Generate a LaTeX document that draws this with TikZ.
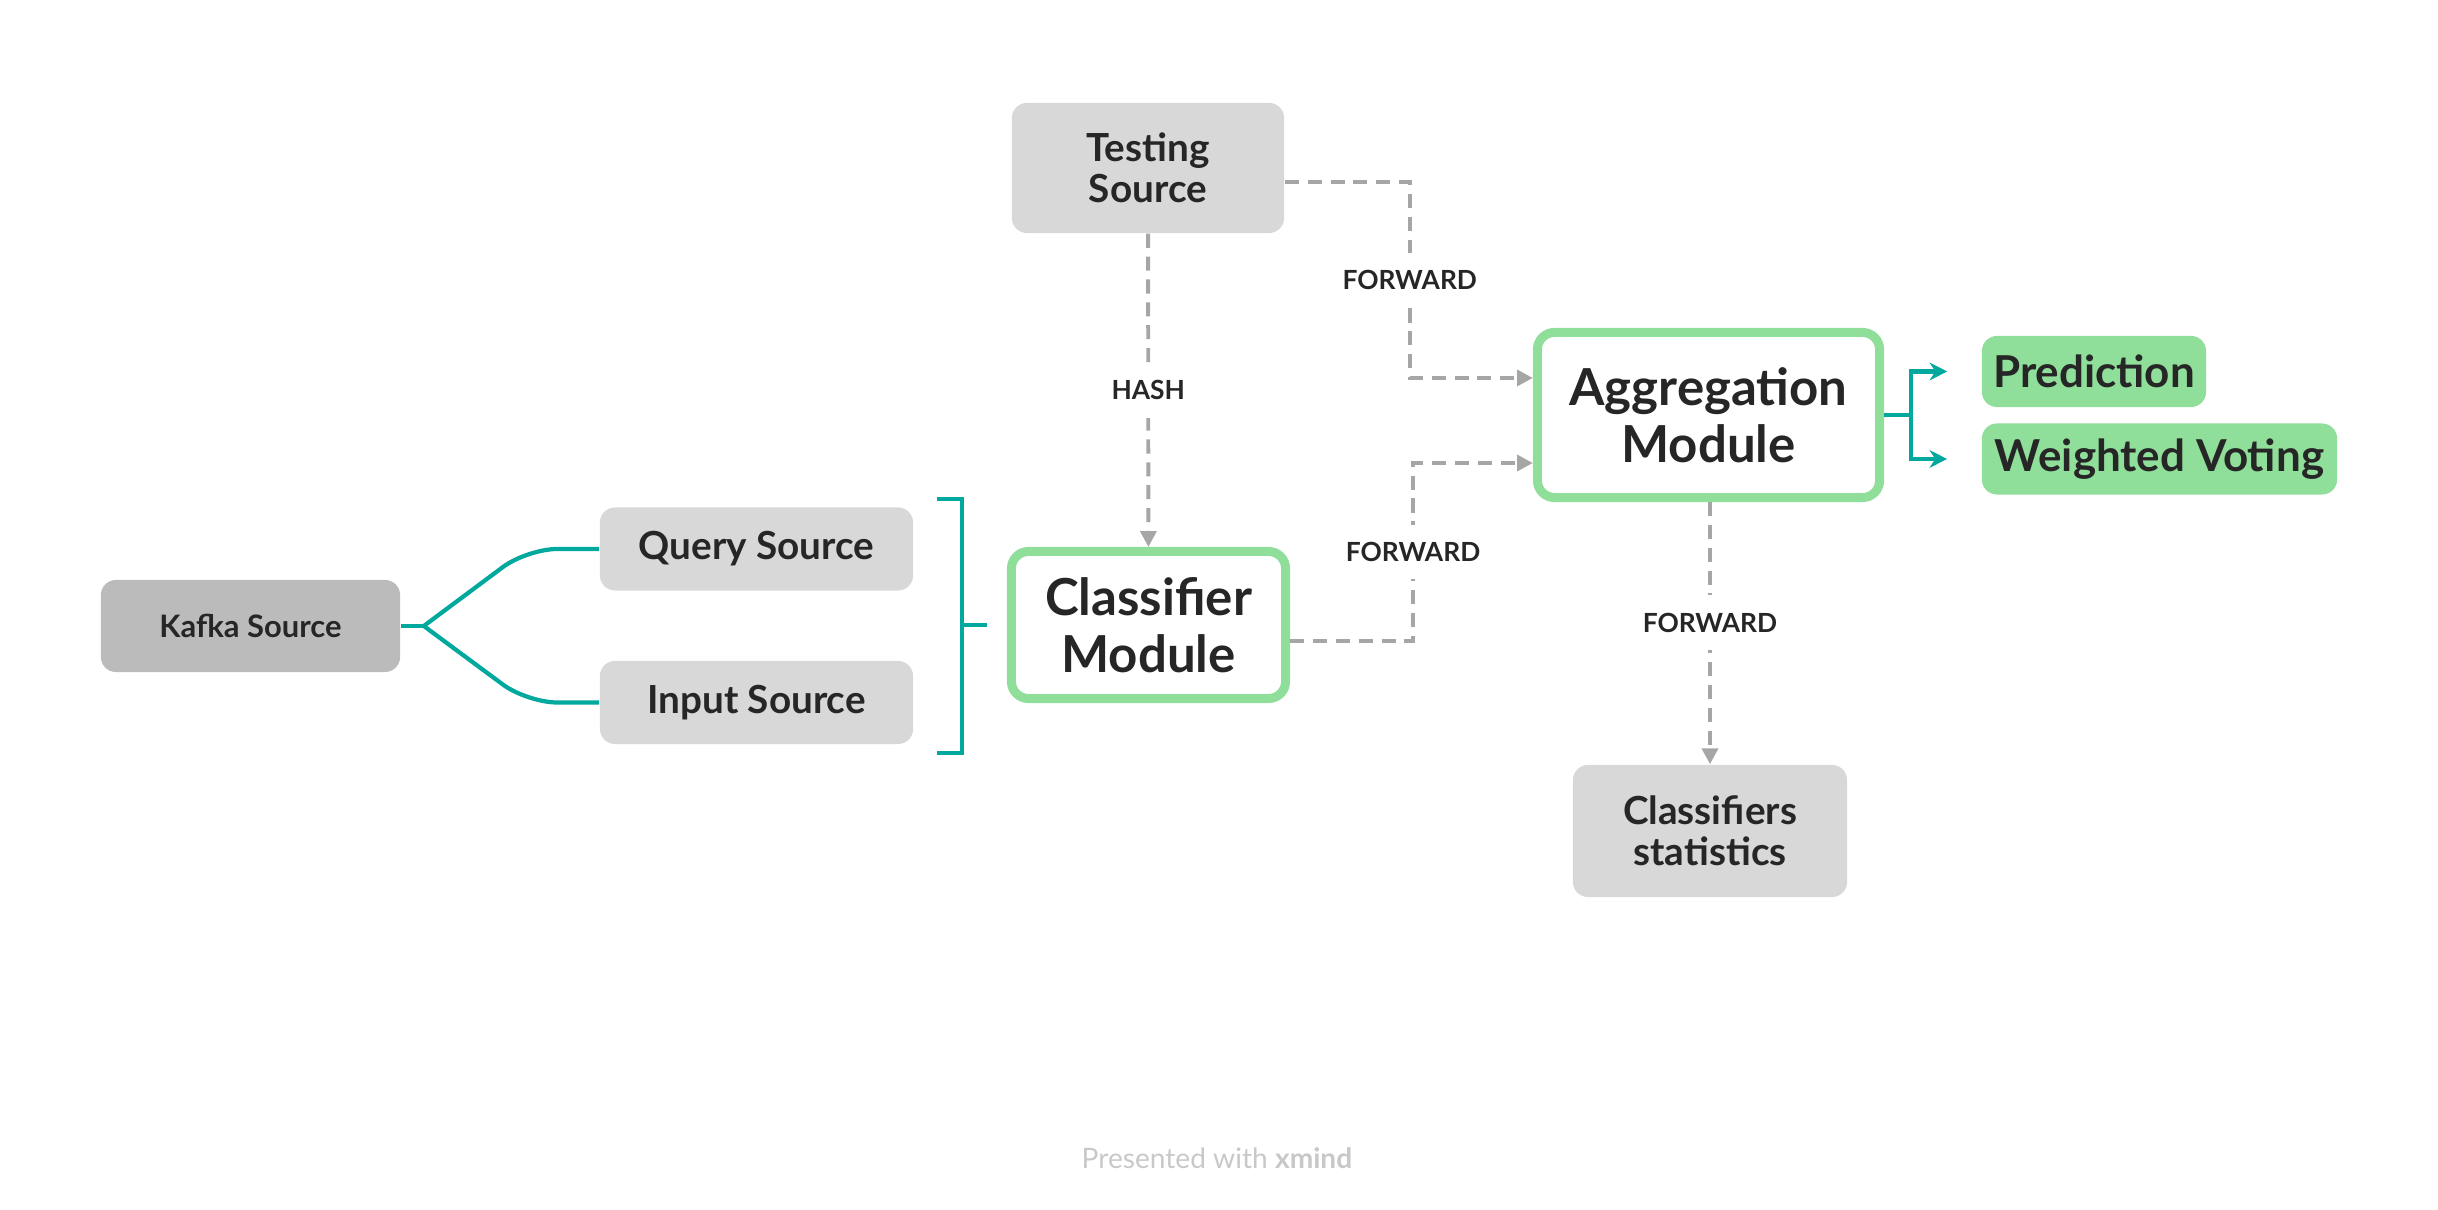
\documentclass[tikz,border=0pt]{standalone}
\usepackage{fontspec}
\setmainfont{Lato}
\usepackage{xcolor}
\usetikzlibrary{
  arrows.meta,
  positioning,
  calc
}
\definecolor{mmgray}{RGB}{216,216,216}
\definecolor{mmdark}{RGB}{187,187,187}
\definecolor{mmgreen}{RGB}{143,222,153}
\definecolor{mmteal}{RGB}{0,168,157}
\definecolor{mmdash}{RGB}{166,166,166}
\definecolor{mmtext}{RGB}{38,38,38}
\definecolor{mmfoot}{RGB}{200,200,200}

\begin{document}
\begin{tikzpicture}[
  x=0.01cm, y=-0.01cm,
  topic/.style={
    rectangle, rounded corners=0.15cm, fill=mmgray, text=mmtext, align=center,
    inner sep=0pt, font=\bfseries\fontsize{11}{11.8}\selectfont
  },
  module/.style={
    rectangle, rounded corners=0.17cm, draw=mmgreen, line width=0.09cm, fill=white,
    text=mmtext, align=center, inner sep=0pt, font=\bfseries\fontsize{14.5}{16.3}\selectfont
  },
  result/.style={
    rectangle, rounded corners=0.15cm, fill=mmgreen, text=mmtext, inner sep=0pt,
    minimum height=0.71cm, font=\bfseries\fontsize{12.5}{14}\selectfont
  },
  flow/.style={draw=mmdash, line width=1.1pt, dash pattern=on 4pt off 2.5pt,
    -{Triangle[length=4.5pt,width=4.5pt]}},
  branch/.style={draw=mmteal, line width=1.2pt},
  lbl/.style={fill=white, text=mmtext, inner xsep=2pt, inner ysep=5pt,
    font=\bfseries\fontsize{7.5}{9}\selectfont}
]
  \useasboundingbox (0,0) rectangle (2438,1210);

  % sources
  \node[topic, fill=mmdark, minimum width=2.99cm, minimum height=0.92cm,
    font=\bfseries\fontsize{8.8}{10}\selectfont] (kafka) at (250.5,626) {Kafka Source};
  \node[topic, minimum width=3.13cm, minimum height=0.83cm] (query) at (756.5,549) {Query Source};
  \node[topic, minimum width=3.13cm, minimum height=0.83cm] (input) at (756.5,702.5) {Input Source};
  \node[topic, minimum width=2.72cm, minimum height=1.30cm] (test) at (1148,168) {Testing\\Source};

  % modules
  \node[module, minimum width=2.74cm, minimum height=1.47cm] (cls) at (1148.5,625) {Classifier\\Module};
  \node[module, minimum width=3.42cm, minimum height=1.65cm] (agg) at (1708.5,415) {Aggregation\\Module};
  \node[topic, minimum width=2.74cm, minimum height=1.32cm] (stats) at (1710,831) {Classifiers\\statistics};

  % results
  \node[result, minimum width=2.24cm] (pred) at (2094,371.5) {Prediction};
  \node[result, minimum width=3.55cm] (vote) at (2159.5,459) {Weighted Voting};

  % kafka split and bracket
  \draw[branch] (kafka.east) -- ++(23,0) coordinate (fork);
  \draw[branch, rounded corners=0.3cm] (fork) -- ([xshift=-0.72cm]query.west) -- (query.west);
  \draw[branch, rounded corners=0.3cm] (fork) -- ([xshift=-0.72cm]input.west) -- (input.west);
  \draw[branch] ([shift={(23,-8)}]query.north east) -- ++(25,0) coordinate (brtop)
    |- ([shift={(23,8)}]input.south east);
  \draw[branch] (brtop |- cls.west) -- ++(25,0);

  % dashed flows
  \draw[flow] (test) -- node[lbl]{HASH} (cls);
  \draw[flow] ([yshift=-0.14cm]test.east) -- ++(125,0)
    |- node[lbl, pos=0.25]{FORWARD} ([yshift=0.37cm]agg.west);
  \draw[flow] ([yshift=-0.16cm]cls.east) -- ++(123,0)
    |- node[lbl, pos=0.25]{FORWARD} ([yshift=-0.48cm]agg.west);
  \draw[flow] (agg.south -| stats.north) -- node[lbl, pos=0.46]{FORWARD} (stats.north);

  % outputs
  \draw[branch] (agg.east) -- ++(27,0) coordinate (split);
  \draw[branch, -{Stealth[length=5pt,width=5pt]}] (split) |- ([xshift=-0.34cm]pred.west);
  \draw[branch, -{Stealth[length=5pt,width=5pt]}] (split) |- ([xshift=-0.34cm]vote.west);

  \node[text=mmfoot, font=\fontsize{8}{9}\selectfont] (credit) at (1217,1158)
    {Presented with \textbf{xmind}};
\end{tikzpicture}
\end{document}
